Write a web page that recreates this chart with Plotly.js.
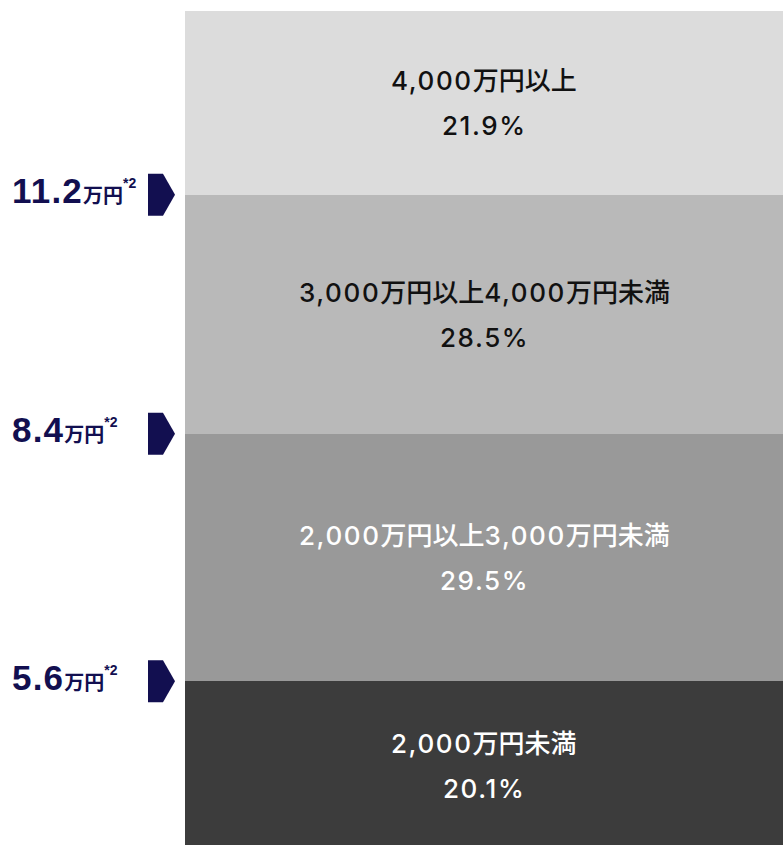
<!DOCTYPE html>
<html>
<head>
<meta charset="utf-8">
<script src="https://cdn.plot.ly/plotly-3.0.1.min.js"></script>
<style>
html,body{margin:0;padding:0;overflow:hidden;background:#fff;}
#chart{width:783px;height:850px;}
</style>
</head>
<body>
<div id="chart"></div>
<script>
// Data
var categories = ['2,000万円未満', '2,000万円以上3,000万円未満', '3,000万円以上4,000万円未満', '4,000万円以上'];
var shares = [20.1, 29.5, 28.5, 21.9];
var markerValues = ['5.6', '8.4', '11.2'];
var markerUnit = '万円';
var markerNote = '*2';

// Styles
var segColors = ['#3c3c3c', '#999999', '#b9b9b9', '#dcdcdc'];
var textColors = ['#ffffff', '#ffffff', '#111111', '#111111'];
var navy = '#120f50';

function spaced(s) {
  return s.replace(/([0-9,.%]+)/g, '<span style="letter-spacing:1.6px">$1</span>');
}

var traces = categories.map(function (c, i) {
  return {
    type: 'bar',
    x: ['all'],
    y: [shares[i]],
    name: c,
    width: [1],
    marker: {color: segColors[i], line: {width: 0}},
    hoverinfo: 'skip',
    showlegend: false
  };
});

var centerFont = 'Inter, Noto Sans CJK JP';
var annotations = [];
var shapes = [];
var cum = 0;
var bounds = [];
shares.forEach(function (v, i) {
  var mid = cum + v / 2;
  annotations.push({
    x: 'all', y: mid, xref: 'x', yref: 'y', yshift: 22,
    text: spaced(categories[i]), showarrow: false,
    font: {family: centerFont, size: 26, weight: 500, color: textColors[i]}
  });
  annotations.push({
    x: 'all', y: mid, xref: 'x', yref: 'y', yshift: -23,
    text: spaced(shares[i].toFixed(1) + '%'), showarrow: false,
    font: {family: centerFont, size: 26, weight: 500, color: textColors[i]}
  });
  cum += v;
  if (i < shares.length - 1) bounds.push(cum);
});

bounds.forEach(function (b, i) {
  annotations.push({
    x: 0, xref: 'paper', xanchor: 'left', xshift: -175,
    y: b, yref: 'y', yanchor: 'middle', yshift: 4,
    showarrow: false, align: 'left',
    text: '<b><span style="letter-spacing:1.2px">' + markerValues[i] + '</span><span style="font-size:20px">' + markerUnit + '</span>' +
          '<sup><span style="font-size:14px">' + markerNote + '</span></sup></b>',
    font: {family: 'Liberation Sans, Noto Sans CJK JP', size: 35, color: navy}
  });
  shapes.push({
    type: 'path', xref: 'paper', yref: 'y',
    xsizemode: 'pixel', ysizemode: 'pixel',
    xanchor: 0, yanchor: b,
    path: 'M -37 21 L -22 21 L -10 0 L -22 -21 L -37 -21 Z',
    fillcolor: navy, line: {width: 0}
  });
});

var layout = {
  width: 783, height: 850,
  margin: {l: 185, r: 0, t: 11, b: 0, pad: 0},
  paper_bgcolor: '#ffffff', plot_bgcolor: '#ffffff',
  barmode: 'stack', bargap: 0,
  xaxis: {visible: false, range: [-0.5, 0.5], fixedrange: true},
  yaxis: {visible: false, range: [0, 100], fixedrange: true},
  annotations: annotations,
  shapes: shapes
};

Plotly.newPlot('chart', traces, layout, {displayModeBar: false, staticPlot: true});
</script>
</body>
</html>
